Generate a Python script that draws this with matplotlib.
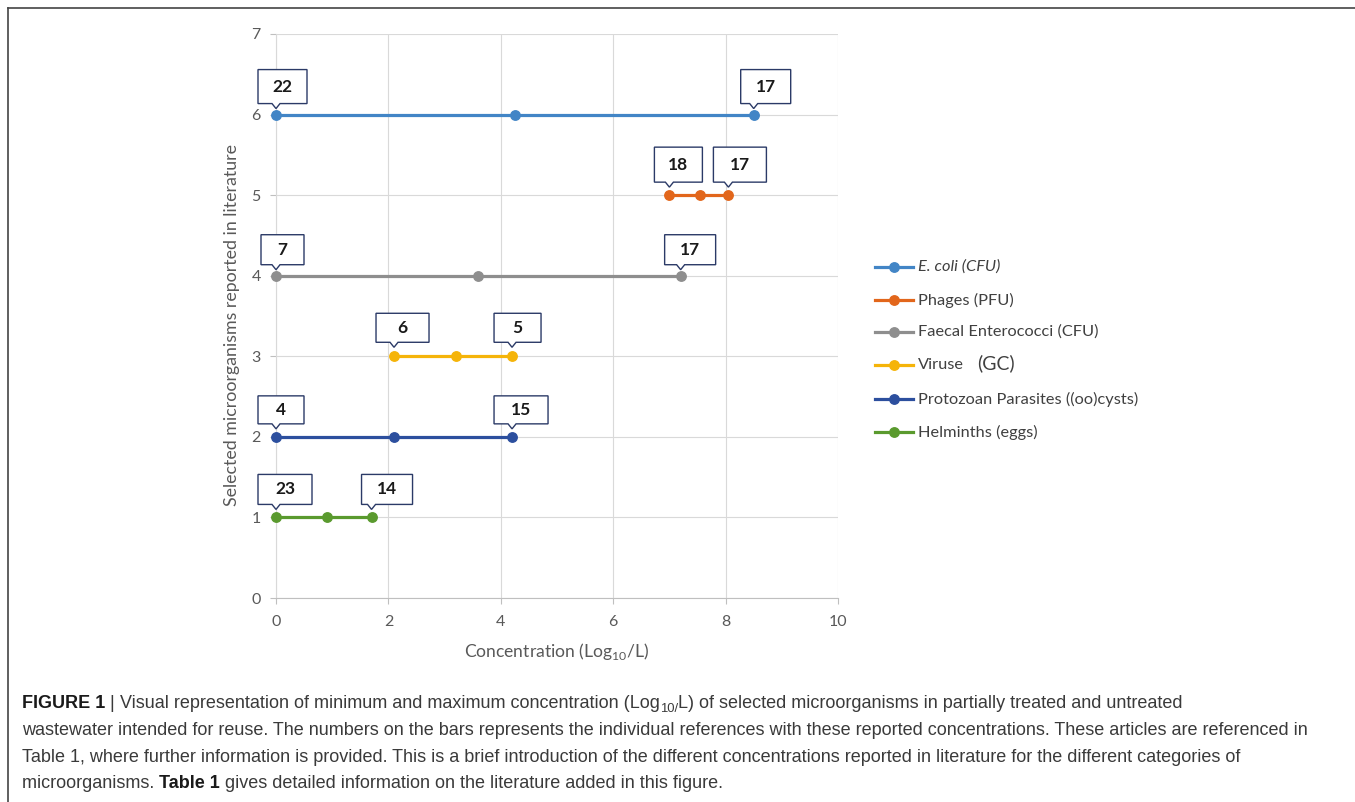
import matplotlib
matplotlib.use('Agg')
import matplotlib.pyplot as plt
import matplotlib.transforms as mtransforms
from matplotlib.lines import Line2D
from matplotlib.patches import Polygon

# ===== DATA =====
series_names = ['E. coli (CFU)', 'Phages (PFU)', 'Faecal Enterococci (CFU)',
                'Viruse', 'Protozoan Parasites ((oo)cysts)', 'Helminths (eggs)']
series_level = [6, 5, 4, 3, 2, 1]
ecoli = [0.0, 4.25, 8.5]
phages = [7.0, 7.55, 8.05]
faecal = [0.0, 3.6, 7.2]
viruses = [2.1, 3.2, 4.2]
protozoa = [0.0, 2.1, 4.2]
helminths = [0.0, 0.9, 1.7]
series_values = [ecoli, phages, faecal, viruses, protozoa, helminths]
ref_first = [22, 18, 7, 6, 4, 23]
ref_last = [17, 17, 17, 5, 15, 14]
colors = ['#4285C6', '#E2661B', '#8E8E8E', '#F5B409', '#2C4F9E', '#5A9A2E']
x_ticks = [0, 2, 4, 6, 8, 10]
y_ticks = [0, 1, 2, 3, 4, 5, 6, 7]

# callout box geometry in pixels (left offset, width) for first/last point
box_first = [(-18, 49), (-15, 48), (-15, 43), (-18, 53), (-18, 46), (-18, 54)]
box_last = [(-13, 50), (-15, 53), (-16, 51), (-18, 47), (-18, 54), (-10, 51)]
box_height = [34, 35, 30, 29, 28, 30]
box_gap = [11, 13, 11, 14, 13, 13]

W, H = 1355, 802
DPI = 100
CHART_FONT = ['Lato', 'DejaVu Sans']
CAP_FONT = ['Liberation Sans', 'DejaVu Sans']

plt.rcParams['mathtext.fontset'] = 'custom'
plt.rcParams['mathtext.rm'] = 'Lato'

fig = plt.figure(figsize=(W / DPI, H / DPI), dpi=DPI)
ax = fig.add_axes([276 / W, 1 - 598 / H, (838 - 276) / W, (598 - 34) / H])

# series lines
for vals, lev, col, name in zip(series_values, series_level, colors, series_names):
    ax.plot(vals, [lev] * len(vals), color=col, linewidth=2.3, marker='o',
            markersize=6.8, label=name, clip_on=False, zorder=3)

ax.set_xlim(0, 10)
ax.set_ylim(0, 7)
ax.set_xticks(x_ticks)
ax.set_yticks(y_ticks)
ax.grid(True, color='#d9d9d9', linewidth=0.8, zorder=0)
ax.set_axisbelow(True)
for side in ['top', 'right']:
    ax.spines[side].set_visible(False)
ax.spines['left'].set_color('#d9d9d9')
ax.spines['bottom'].set_color('#bfbfbf')
ax.spines['left'].set_linewidth(0.8)
ax.spines['bottom'].set_linewidth(0.8)
ax.tick_params(axis='both', colors='#bfbfbf', labelcolor='#595959', length=4,
               width=0.8, labelsize=11.5)
ax.tick_params(axis='y', pad=7)
ax.tick_params(axis='x', pad=8)
for lbl in ax.get_xticklabels() + ax.get_yticklabels():
    lbl.set_family(CHART_FONT)

ax.set_xlabel(r'Concentration (Log$_{\mathrm{10}}$/L)', fontsize=12.6,
              color='#595959', family=CHART_FONT, labelpad=9)
ax.set_ylabel('Selected microorganisms reported in literature', fontsize=12.8,
              color='#595959', family=CHART_FONT, ha='center', va='center')
ax.yaxis.set_label_coords(-0.078, 0.484)


def callout(x, y, label, left, width, height, gap):
    trans = fig.dpi_scale_trans + mtransforms.ScaledTranslation(x, y, ax.transData)
    yb, yt = gap, gap + height
    verts = [(left, yt), (left + width, yt), (left + width, yb), (4, yb),
             (0, yb - 5), (-4, yb), (left, yb)]
    verts = [(vx / DPI, vy / DPI) for vx, vy in verts]
    poly = Polygon(verts, closed=True, facecolor='white', edgecolor='#2B3A67',
                   linewidth=1.0, transform=trans, clip_on=False, zorder=5)
    ax.add_patch(poly)
    ax.text((left + width / 2) / DPI, (yb + height / 2) / DPI, str(label),
            transform=trans, ha='center', va='center', fontsize=12.5,
            fontweight='bold', color='#1a1a1a', family=CHART_FONT, zorder=6,
            clip_on=False)


for i, vals in enumerate(series_values):
    lev = series_level[i]
    callout(vals[0], lev, ref_first[i], box_first[i][0], box_first[i][1],
            box_height[i], box_gap[i])
    callout(vals[-1], lev, ref_last[i], box_last[i][0], box_last[i][1],
            box_height[i], box_gap[i])

# legend drawn by hand so "(GC)" can have its own size
legend_rows = [267, 300, 332, 365, 399, 432]
for i, (name, col) in enumerate(zip(series_names, colors)):
    yy = 1 - legend_rows[i] / H
    fig.add_artist(Line2D([875 / W, 913 / W], [yy, yy], color=col, linewidth=2.3,
                          transform=fig.transFigure))
    fig.add_artist(Line2D([894 / W], [yy], color=col, marker='o', markersize=6.8,
                          transform=fig.transFigure))
    fig.text(918 / W, yy, name, fontsize=11.8, color='#404040', va='center',
             ha='left', family=CHART_FONT,
             style='italic' if i == 0 else 'normal')
fig.text(977 / W, 1 - 363 / H, '(GC)', fontsize=14, color='#404040',
         va='center', ha='left', family=CHART_FONT)

# frame around the figure panel
fig.add_artist(Line2D([8 / W, 1], [1 - 8 / H, 1 - 8 / H], color='#444444',
                      linewidth=1.2, transform=fig.transFigure))
fig.add_artist(Line2D([8 / W, 8 / W], [0, 1 - 8 / H], color='#444444',
                      linewidth=1.2, transform=fig.transFigure))

# caption, written run by run
renderer = fig.canvas.get_renderer()


def run_width(s, **kw):
    a = fig.text(0, 0, 'H' + s + 'H', **kw)
    b = fig.text(0, 0, 'HH', **kw)
    w = a.get_window_extent(renderer).width - b.get_window_extent(renderer).width
    a.remove()
    b.remove()
    return w


CAP_SIZE = 13.0
reg = dict(fontsize=CAP_SIZE, family=CAP_FONT, color='#3a3a3a')
bold = dict(fontsize=CAP_SIZE, family=CAP_FONT, color='#1a1a1a', fontweight='bold')
sub = dict(fontsize=CAP_SIZE * 0.72, family=CAP_FONT, color='#3a3a3a')

caption_lines = [
    [('FIGURE 1', bold, 0), (' | ', reg, 0),
     ('Visual representation of minimum and maximum concentration (Log', reg, 0),
     ('10/', sub, -4), ('L) of selected microorganisms in partially treated and untreated', reg, 0)],
    [('wastewater intended for reuse. The numbers on the bars represents the individual '
      'references with these reported concentrations. These articles are referenced in', reg, 0)],
    [('Table 1, where further information is provided. This is a brief introduction of the '
      'different concentrations reported in literature for the different categories of', reg, 0)],
    [('microorganisms. ', reg, 0), ('Table 1', bold, 0),
     (' gives detailed information on the literature added in this figure.', reg, 0)],
]
caption_base = [708, 735, 762, 788]

for runs, yb in zip(caption_lines, caption_base):
    x = 22
    for s, kw, dy in runs:
        fig.text(x / W, 1 - (yb - dy) / H, s, ha='left', va='baseline', **kw)
        x += run_width(s, **kw)

fig.savefig('out.png', dpi=DPI)
plt.close('all')
